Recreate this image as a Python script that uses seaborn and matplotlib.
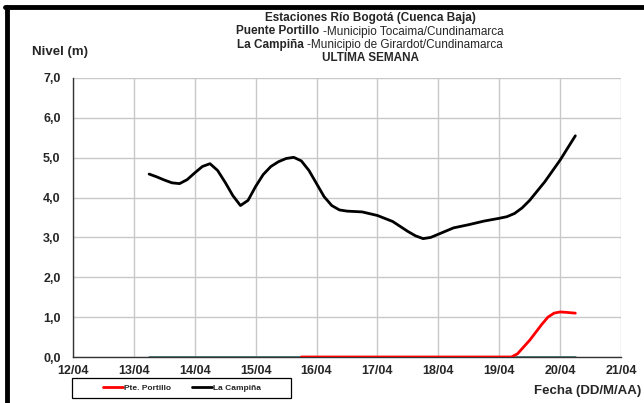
import numpy as np
import pandas as pd
import matplotlib
matplotlib.use("Agg")
import matplotlib.pyplot as plt
from matplotlib.lines import Line2D
from matplotlib.patches import Rectangle
import seaborn as sns

# ---- data (day of April, level in m) ----
campina_day = [13.25, 13.375, 13.5, 13.625, 13.75, 13.875, 14.0, 14.125, 14.25, 14.375,
               14.5, 14.625, 14.75, 14.875, 15.0, 15.125, 15.25, 15.375, 15.5, 15.625,
               15.75, 15.875, 16.0, 16.125, 16.25, 16.375, 16.5, 16.75, 17.0, 17.25,
               17.5, 17.625, 17.75, 17.875, 18.0, 18.25, 18.5, 18.75, 19.0, 19.125,
               19.25, 19.375, 19.5, 19.75, 20.0, 20.25]
campina_lvl = [4.59, 4.52, 4.44, 4.37, 4.35, 4.45, 4.62, 4.78, 4.85, 4.68,
               4.38, 4.05, 3.80, 3.93, 4.28, 4.58, 4.78, 4.90, 4.98, 5.01,
               4.92, 4.68, 4.35, 4.02, 3.80, 3.69, 3.66, 3.64, 3.55, 3.40,
               3.15, 3.04, 2.97, 3.00, 3.08, 3.24, 3.32, 3.41, 3.48, 3.52,
               3.60, 3.74, 3.93, 4.40, 4.94, 5.55]
portillo_day = [15.75, 16.0, 16.5, 17.0, 17.5, 18.0, 18.5, 18.9, 19.0, 19.2, 19.3,
                19.4, 19.5, 19.6, 19.7, 19.8, 19.9, 20.0, 20.1, 20.25]
portillo_lvl = [0.0, 0.0, 0.0, 0.0, 0.0, 0.0, 0.0, 0.0, np.nan, 0.0, 0.08,
                0.25, 0.42, 0.62, 0.82, 1.0, 1.1, 1.13, 1.12, 1.10]
base_day = [13.25, 20.25]
base_lvl = [0.0, 0.0]

x_ticks = [12, 13, 14, 15, 16, 17, 18, 19, 20, 21]
x_labels = ["12/04", "13/04", "14/04", "15/04", "16/04", "17/04", "18/04", "19/04", "20/04", "21/04"]
y_ticks = [0, 1, 2, 3, 4, 5, 6, 7]
y_labels = ["0,0", "1,0", "2,0", "3,0", "4,0", "5,0", "6,0", "7,0"]

sns.set_style("white")
plt.rcParams['font.family'] = ['Liberation Sans', 'DejaVu Sans']

W, H = 644, 403
fig = plt.figure(figsize=(W / 100, H / 100), dpi=100)
ax = fig.add_axes([73 / W, 1 - 357 / H, (621 - 73) / W, (357 - 78) / H])

df_c = pd.DataFrame({"day": campina_day, "lvl": campina_lvl})
df_p = pd.DataFrame({"day": portillo_day, "lvl": portillo_lvl})
df_b = pd.DataFrame({"day": base_day, "lvl": base_lvl})

sns.lineplot(data=df_b, x="day", y="lvl", ax=ax, color="#3F6B6B", lw=2.0, zorder=3)
sns.lineplot(data=df_c, x="day", y="lvl", ax=ax, color="black", lw=2.0, zorder=5)
sns.lineplot(data=df_p, x="day", y="lvl", ax=ax, color="#FF0000", lw=2.0, zorder=4)
for ln in ax.lines:
    ln.set_solid_joinstyle("round")
    ln.set_solid_capstyle("round")

ax.set_xlim(12, 21)
ax.set_ylim(0, 7)
ax.set_xticks(x_ticks)
ax.set_xticklabels(x_labels, fontsize=9, fontweight="bold")
ax.set_yticks(y_ticks)
ax.set_yticklabels(y_labels, fontsize=9, fontweight="bold")
ax.set_xlabel("")
ax.set_ylabel("")
ax.grid(True, color="#C8C8C8", lw=1.0)
ax.set_axisbelow(True)
for s in ["top", "right"]:
    ax.spines[s].set_visible(False)
for s in ["left", "bottom"]:
    ax.spines[s].set_color("#333333")
    ax.spines[s].set_linewidth(1.0)
ax.tick_params(axis="both", direction="out", length=3, width=1, color="#333333")
ax.tick_params(axis="y", pad=6)
ax.tick_params(axis="x", pad=3)

TFS = 8.5
fig.text(370 / W, 1 - 18.5 / H, "Estaciones Río Bogotá (Cuenca Baja)", ha="center", va="center",
         fontsize=TFS, fontweight="bold")

def mixed(y, bold, reg):
    r = fig.canvas.get_renderer()
    t1 = fig.text(0, 1 - y / H, bold, ha="left", va="center", fontsize=TFS, fontweight="bold")
    t2 = fig.text(0, 1 - y / H, reg, ha="left", va="center", fontsize=TFS)
    w1 = t1.get_window_extent(r).width
    w2 = t2.get_window_extent(r).width
    x0 = 370 - (w1 + w2) / 2
    t1.set_x(x0 / W)
    t2.set_x((x0 + w1) / W)

mixed(31.5, "Puente Portillo ", "-Municipio Tocaima/Cundinamarca")
mixed(45, "La Campiña ", "-Municipio de Girardot/Cundinamarca")
fig.text(370 / W, 1 - 58 / H, "ULTIMA SEMANA", ha="center", va="center", fontsize=TFS, fontweight="bold")
fig.text(32 / W, 1 - 52 / H, "Nivel (m)", ha="left", va="center", fontsize=9.5, fontweight="bold")
fig.text(641 / W, 1 - 391 / H, "Fecha (DD/M/AA)", ha="right", va="center", fontsize=9.5, fontweight="bold")

# legend
fig.add_artist(Rectangle((72 / W, 1 - 398 / H), (291 - 72) / W, 20 / H, transform=fig.transFigure,
                         facecolor="white", edgecolor="black", lw=0.9, zorder=5))
handles = [Line2D([], [], color="#FF0000", lw=2.0), Line2D([], [], color="black", lw=2.0)]
leg = fig.legend(handles, ["Pte. Portillo", "La Campiña"], loc="center",
                 bbox_to_anchor=(182 / W, 1 - 388 / H), ncol=2, frameon=False,
                 prop={"size": 6, "weight": "bold"},
                 handlelength=2.4, handletextpad=0.1, columnspacing=2.6,
                 borderpad=0.0, borderaxespad=0.0)
leg.set_zorder(6)

# outer frame (left and top edges)
fig.add_artist(Line2D([7 / W, 7 / W], [0, 1 - 7 / H], color="black", lw=3.5, transform=fig.transFigure))
fig.add_artist(Line2D([5 / W, 1], [1 - 7 / H, 1 - 7 / H], color="black", lw=3.5, transform=fig.transFigure))

fig.savefig("out.png", dpi=100)
